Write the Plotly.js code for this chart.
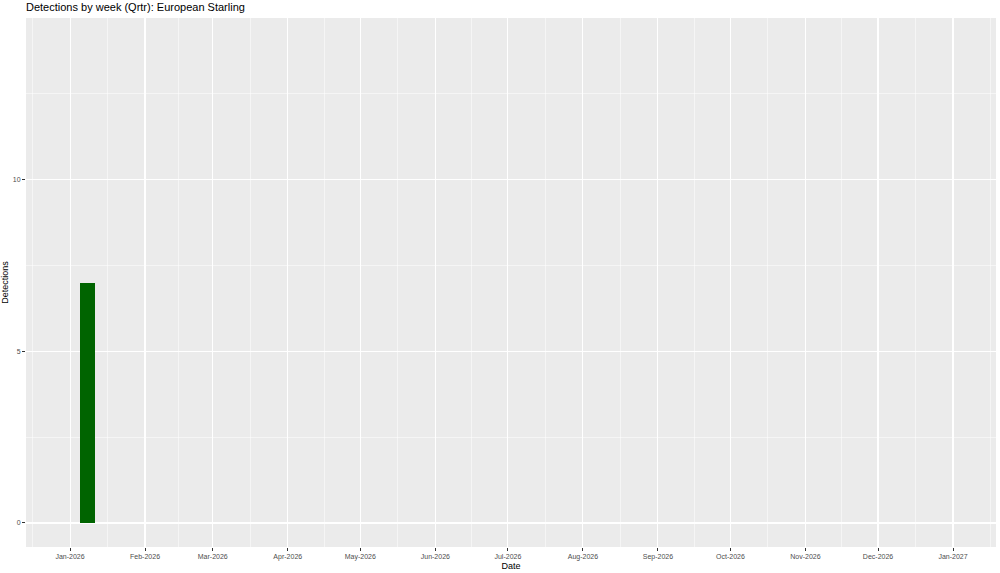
<!DOCTYPE html>
<html>
<head>
<meta charset="utf-8">
<script src="https://cdn.plot.ly/plotly-3.0.1.min.js"></script>
<style>html,body{margin:0;padding:0;background:#fff}#chart{width:1000px;height:573px}</style>
</head>
<body>
<div id="chart"></div>
<script>
// Data
const weeks = ['2026-01-08 05:00'];
const detections = [7];
const barColor = '#006400';
const monthTicks = ['2026-01-01','2026-02-01','2026-03-01','2026-04-01','2026-05-01','2026-06-01','2026-07-01','2026-08-01','2026-09-01','2026-10-01','2026-11-01','2026-12-01','2027-01-01'];
const monthLabels = ['Jan-2026','Feb-2026','Mar-2026','Apr-2026','May-2026','Jun-2026','Jul-2026','Aug-2026','Sep-2026','Oct-2026','Nov-2026','Dec-2026','Jan-2027'];
const yTicks = [0, 5, 10];

// minor gridlines at midpoints between month breaks (ggplot style)
const extMonths = ['2025-12-01'].concat(monthTicks).concat(['2027-02-01']);
const minorVals = [];
for (let i = 0; i < extMonths.length - 1; i++) {
  const a = new Date(extMonths[i] + 'T00:00:00Z').getTime();
  const b = new Date(extMonths[i+1] + 'T00:00:00Z').getTime();
  minorVals.push(new Date((a + b) / 2).toISOString().replace('T',' ').replace('Z',''));
}

const dayMs = 86400000;
const trace = {
  type: 'bar',
  x: weeks,
  y: detections,
  width: weeks.map(() => 6.25 * dayMs),
  marker: {color: barColor, line: {width: 0}},
  hoverinfo: 'x+y'
};

const layout = {
  width: 1000, height: 573,
  margin: {l: 26, r: 4, t: 18, b: 26},
  paper_bgcolor: '#ffffff',
  plot_bgcolor: '#EBEBEB',
  font: {family: 'Liberation Sans, Arial, sans-serif', color: '#000'},
  title: {
    text: 'Detections by week (Qrtr): European Starling',
    x: 0, xref: 'paper', xanchor: 'left',
    y: 1, yref: 'container', yanchor: 'top', pad: {t: 3, l: 0},
    font: {size: 11, color: '#000'}
  },
  showlegend: false,
  bargap: 0,
  xaxis: {
    type: 'date',
    range: ['2025-12-13 19:00', '2027-01-18 18:30'],
    tickmode: 'array', tickvals: monthTicks, ticktext: monthLabels,
    ticks: 'outside', ticklen: 3, tickwidth: 1, tickcolor: '#333333',
    tickfont: {size: 7, color: '#4D4D4D'},
    showgrid: true, gridcolor: '#FFFFFF', gridwidth: 1.1,
    minor: {tickmode: 'array', tickvals: minorVals, showgrid: true, gridcolor: '#FFFFFF', gridwidth: 0.5, ticks: ''},
    zeroline: false, showline: false,
    title: {text: 'Date', font: {size: 9, color: '#000'}, standoff: 2},
    fixedrange: true
  },
  yaxis: {
    range: [-0.7, 14.7],
    tickmode: 'array', tickvals: yTicks,
    ticks: 'outside', ticklen: 3, tickwidth: 1, tickcolor: '#333333',
    tickfont: {size: 7, color: '#4D4D4D'},
    showgrid: true, gridcolor: '#FFFFFF', gridwidth: 1.1,
    minor: {tickmode: 'array', tickvals: [2.5, 7.5, 12.5], showgrid: true, gridcolor: '#FFFFFF', gridwidth: 0.5, ticks: ''},
    zeroline: false, showline: false,
    title: {text: 'Detections', font: {size: 9, color: '#000'}, standoff: 2},
    fixedrange: true
  }
};

Plotly.newPlot('chart', [trace], layout, {displayModeBar: false, staticPlot: true});
</script>
</body>
</html>
